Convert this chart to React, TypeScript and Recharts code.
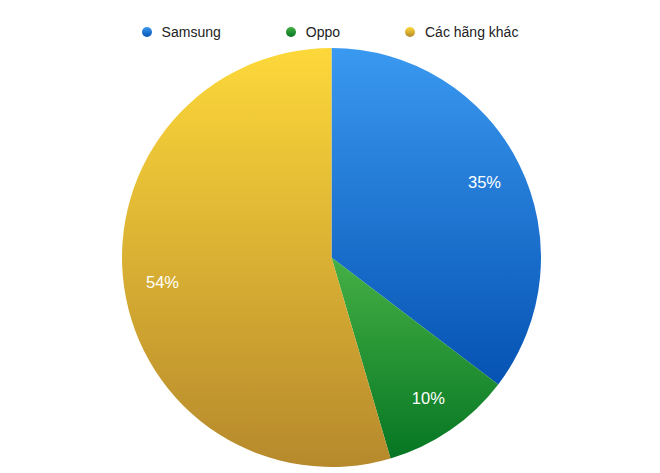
import { PieChart, Pie, Cell, Legend } from 'recharts';

const brands = ['Samsung', 'Oppo', 'Các hãng khác'];
const shares = [35, 10, 54];
const topColors = ['#3a99f0', '#45b045', '#fdd83a'];
const bottomColors = ['#0552b3', '#067623', '#b6892c'];

const data = brands.map((name, i) => ({ name, value: shares[i] }));

const RADIAN = Math.PI / 180;

const renderLabel = (props: any) => {
  const { cx, cy, midAngle, outerRadius, value } = props;
  const r = outerRadius * 0.815;
  const x = cx + r * Math.cos(-midAngle * RADIAN);
  const y = cy + r * Math.sin(-midAngle * RADIAN);
  return (
    <text
      x={x}
      y={y}
      fill="#ffffff"
      textAnchor="middle"
      dominantBaseline="central"
      fontSize={16.5}
      fontFamily="Liberation Sans, Arial, sans-serif"
    >
      {`${value}%`}
    </text>
  );
};

const renderLegend = () => (
  <div
    style={{
      display: 'flex',
      justifyContent: 'center',
      gap: 65,
      fontFamily: 'Liberation Sans, Arial, sans-serif',
      fontSize: 14,
      color: '#222',
    }}
  >
    {brands.map((name, i) => (
      <div key={name} style={{ display: 'flex', alignItems: 'center' }}>
        <span
          style={{
            width: 10,
            height: 10,
            borderRadius: 5,
            marginRight: 10,
            background: `linear-gradient(${topColors[i]}, ${bottomColors[i]})`,
          }}
        />
        <span>{name}</span>
      </div>
    ))}
  </div>
);

export default function App() {
  return (
    <div style={{ position: 'absolute', left: 0, top: 0, width: 660, height: 473, background: '#fff' }}>
      <PieChart width={660} height={473} margin={{ top: 0, right: 0, bottom: 0, left: 0 }}>
        <defs>
          {brands.map((_, i) => (
            <linearGradient key={i} id={`grad${i}`} x1="0" y1="0" x2="0" y2="1">
              <stop offset="0%" stopColor={topColors[i]} />
              <stop offset="100%" stopColor={bottomColors[i]} />
            </linearGradient>
          ))}
        </defs>
        <Legend
          verticalAlign="top"
          content={renderLegend}
          wrapperStyle={{ top: 24, left: 0, width: 660 }}
        />
        <Pie
          data={data}
          dataKey="value"
          cx={331.5}
          cy={241.5}
          outerRadius={209.5}
          startAngle={90}
          endAngle={-270}
          stroke="none"
          label={renderLabel}
          labelLine={false}
          isAnimationActive={false}
        >
          {data.map((_, i) => (
            <Cell key={i} fill={`url(#grad${i})`} />
          ))}
        </Pie>
      </PieChart>
    </div>
  );
}
